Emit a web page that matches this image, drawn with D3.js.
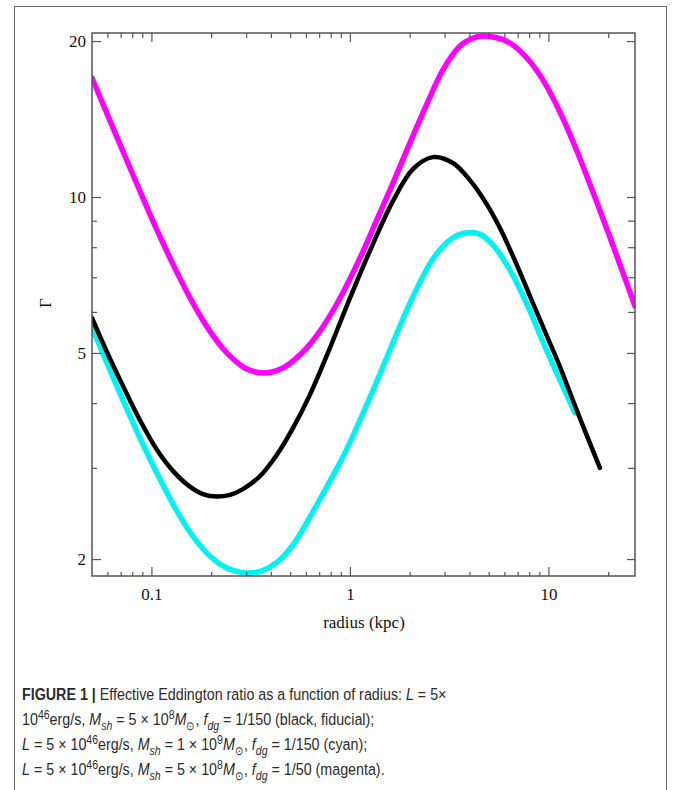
<!DOCTYPE html>
<html>
<head>
<meta charset="utf-8">
<script src="https://cdn.jsdelivr.net/npm/d3@7.9.0/dist/d3.min.js"></script>
<style>
  body { margin: 0; background: #fff; }
  svg { display: block; }
  .tick text { font-family: "Liberation Serif", "Times New Roman", serif; font-size: 17px; fill: #111; }
  .caption { font-family: "Liberation Sans", Arial, sans-serif; font-size: 17px; fill: #2b2b2b; }
</style>
</head>
<body>
<div id="chart"></div>
<script>
// axis ranges (radius in kpc, Gamma)
const xDomain = [0.0502, 27.3];
const yDomain = [1.855, 20.73];
const xMajor = [0.1, 1, 10];
const xMinor = [0.06, 0.07, 0.08, 0.09, 0.2, 0.3, 0.4, 0.5, 0.6, 0.7, 0.8, 0.9,
                2, 3, 4, 5, 6, 7, 8, 9, 20];
const yMajor = [2, 5, 10, 20];
const yMinor = [3, 4, 6, 7, 8, 9];

// fiducial (black)
const blackR = [0.0502, 0.0597, 0.0718, 0.0875, 0.1066, 0.1283, 0.1563, 0.1817, 0.2138, 0.2486,
                0.2891, 0.352, 0.4287, 0.5163, 0.6286, 0.7747, 0.977, 1.261, 1.647, 2.077,
                2.619, 3.303, 4.022, 4.844, 5.698, 6.939, 8.353, 9.827, 11.43, 14.41, 18.17];
const blackG = [5.84, 5.02, 4.32, 3.71, 3.25, 2.96, 2.76, 2.67, 2.64, 2.66,
                2.73, 2.89, 3.18, 3.58, 4.15, 5.00, 6.24, 7.87, 9.82, 11.32,
                11.94, 11.63, 10.78, 9.74, 8.71, 7.39, 6.24, 5.39, 4.70, 3.74, 3.00];

// M_sh = 1e9 (cyan)
const cyanR = [0.0502, 0.0597, 0.0718, 0.0875, 0.1066, 0.1283, 0.1563, 0.1904, 0.2292, 0.2634,
               0.3028, 0.3602, 0.4287, 0.5163, 0.6286, 0.7657, 0.9221, 1.190, 1.501, 2.006,
               2.619, 3.190, 3.796, 4.517, 5.253, 6.397, 7.794, 9.827, 13.6];
const cyanG = [5.61, 4.78, 4.06, 3.43, 2.93, 2.556, 2.256, 2.054, 1.940, 1.897,
               1.880, 1.897, 1.97, 2.129, 2.411, 2.76, 3.148, 3.896, 4.80, 6.24,
               7.59, 8.26, 8.52, 8.48, 8.08, 7.23, 6.215, 5.043, 3.83];

// f_dg = 1/50 (magenta)
const magentaR = [0.0502, 0.0604, 0.0718, 0.0875, 0.1066, 0.1313, 0.1618, 0.1971, 0.2401, 0.2958,
                  0.3644, 0.4597, 0.5797, 0.7063, 0.87, 1.123, 1.352, 1.647, 2.006, 2.443,
                  2.941, 3.584, 4.118, 4.677, 5.439, 6.397, 7.794, 9.382, 11.43, 13.92,
                  16.76, 20.4, 23.46, 27.29];
const magentaG = [16.97, 14.34, 12.27, 10.27, 8.64, 7.29, 6.24, 5.51, 5.00, 4.677,
                  4.574, 4.677, 5.02, 5.51, 6.27, 7.62, 8.95, 10.64, 12.72, 15.12,
                  17.59, 19.56, 20.23, 20.46, 20.32, 19.83, 18.55, 16.83, 14.59, 12.27,
                  10.22, 8.37, 7.23, 6.16];

const width = 674;
const height = 790;
const plot = { left: 92, right: 635, top: 33, bottom: 576 };
const axisColor = '#555';

const svg = d3.select('#chart')
  .append('svg')
  .attr('width', width)
  .attr('height', height);

// figure frame
svg.append('rect')
  .attr('x', 14.5).attr('y', 6.5)
  .attr('width', 652).attr('height', 820)
  .attr('fill', 'none')
  .attr('stroke', '#666')
  .attr('stroke-width', 1);

const x = d3.scaleLog().domain(xDomain).range([plot.left, plot.right]);
const y = d3.scaleLog().domain(yDomain).range([plot.bottom, plot.top]);

svg.append('clipPath').attr('id', 'clip')
  .append('rect')
  .attr('x', plot.left).attr('y', plot.top)
  .attr('width', plot.right - plot.left).attr('height', plot.bottom - plot.top);

// curves
const line = d3.line()
  .x(d => x(d[0]))
  .y(d => y(d[1]))
  .curve(d3.curveCatmullRom.alpha(0.5));

const series = [
  { r: cyanR, g: cyanG, color: '#00f2f2', w: 5.5 },
  { r: magentaR, g: magentaG, color: '#ff00ff', w: 5.5 },
  { r: blackR, g: blackG, color: '#000', w: 4.5 },
];

svg.append('g')
  .attr('clip-path', 'url(#clip)')
  .selectAll('path')
  .data(series)
  .join('path')
  .attr('d', s => line(d3.zip(s.r, s.g)))
  .attr('fill', 'none')
  .attr('stroke', s => s.color)
  .attr('stroke-width', s => s.w)
  .attr('stroke-linecap', 'round')
  .attr('stroke-linejoin', 'round');

// axes, ticks drawn inward
function drawAxis(gen, scale, values, size, pos, labels, pad) {
  const a = gen(scale).tickValues(values).tickSizeInner(-size).tickSizeOuter(0).tickPadding(pad || 0);
  a.tickFormat(labels ? d3.format('~g') : '');
  const g = svg.append('g').attr('transform', pos).call(a);
  g.select('.domain').remove();
  g.selectAll('.tick line').attr('stroke', axisColor).attr('stroke-width', 1.2);
  return g;
}

drawAxis(d3.axisBottom, x, xMajor, 9, `translate(0,${plot.bottom})`, true, 12);
drawAxis(d3.axisBottom, x, xMinor, 4, `translate(0,${plot.bottom})`, false);
drawAxis(d3.axisTop, x, xMajor, 9, `translate(0,${plot.top})`, false);
drawAxis(d3.axisTop, x, xMinor, 5, `translate(0,${plot.top})`, false);
drawAxis(d3.axisLeft, y, yMajor, 9, `translate(${plot.left},0)`, true, 6);
drawAxis(d3.axisLeft, y, yMinor, 5, `translate(${plot.left},0)`, false);
drawAxis(d3.axisRight, y, yMajor, 8, `translate(${plot.right},0)`, false);
drawAxis(d3.axisRight, y, yMinor, 7, `translate(${plot.right},0)`, false);

svg.selectAll('.tick text').attr('fill', '#111');

// frame of the plot
svg.append('rect')
  .attr('x', plot.left).attr('y', plot.top)
  .attr('width', plot.right - plot.left).attr('height', plot.bottom - plot.top)
  .attr('fill', 'none')
  .attr('stroke', axisColor)
  .attr('stroke-width', 1.5);

// axis titles
svg.append('text')
  .attr('x', (plot.left + plot.right) / 2 + 0.5)
  .attr('y', 628)
  .attr('text-anchor', 'middle')
  .style('font-family', '"Liberation Serif", "Times New Roman", serif')
  .style('font-size', '17px')
  .attr('fill', '#111')
  .text('radius (kpc)');

svg.append('text')
  .attr('transform', 'translate(51,303) rotate(-90)')
  .attr('text-anchor', 'middle')
  .style('font-family', '"Liberation Serif", "Times New Roman", serif')
  .style('font-size', '17px')
  .attr('fill', '#111')
  .text('Γ');

// caption
const cap = svg.append('g').attr('class', 'caption');

function captionLine(yPos, parts) {
  const t = cap.append('text').attr('x', 0).attr('y', yPos);
  let shift = 0;
  parts.forEach(([txt, kind]) => {
    const target = kind === 'sup' ? -6 : (kind === 'sub' || kind === 'isub') ? 5 : 0;
    const ts = t.append('tspan').attr('dy', target - shift).text(txt);
    shift = target;
    if (kind === 'b') ts.attr('font-weight', 'bold');
    if (kind === 'i' || kind === 'isub') ts.attr('font-style', 'italic');
    if (kind === 'sup' || kind === 'sub' || kind === 'isub') ts.attr('font-size', 12.5);
  });
  return t;
}

const first = captionLine(700, [
  ['FIGURE 1 | ', 'b'], ['Effective Eddington ratio as a function of radius: '], ['L', 'i'], [' = 5×']
]);
captionLine(725, [
  ['10'], ['46', 'sup'], ['erg/s, '], ['M', 'i'], ['sh', 'isub'], [' = 5 × 10'], ['8', 'sup'],
  ['M', 'i'], ['⊙', 'sub'], [', '], ['f', 'i'], ['dg', 'isub'], [' = 1/150 (black, fiducial);']
]);
captionLine(750, [
  ['L', 'i'], [' = 5 × 10'], ['46', 'sup'], ['erg/s, '], ['M', 'i'], ['sh', 'isub'], [' = 1 × 10'], ['9', 'sup'],
  ['M', 'i'], ['⊙', 'sub'], [', '], ['f', 'i'], ['dg', 'isub'], [' = 1/150 (cyan);']
]);
captionLine(775, [
  ['L', 'i'], [' = 5 × 10'], ['46', 'sup'], ['erg/s, '], ['M', 'i'], ['sh', 'isub'], [' = 5 × 10'], ['8', 'sup'],
  ['M', 'i'], ['⊙', 'sub'], [', '], ['f', 'i'], ['dg', 'isub'], [' = 1/50 (magenta).']
]);

// the caption face is condensed: squeeze to the measured width of line 1
const w1 = first.node().getComputedTextLength();
const sx = 425 / w1;
cap.attr('transform', `translate(22,0) scale(${sx},1)`);
</script>
</body>
</html>
